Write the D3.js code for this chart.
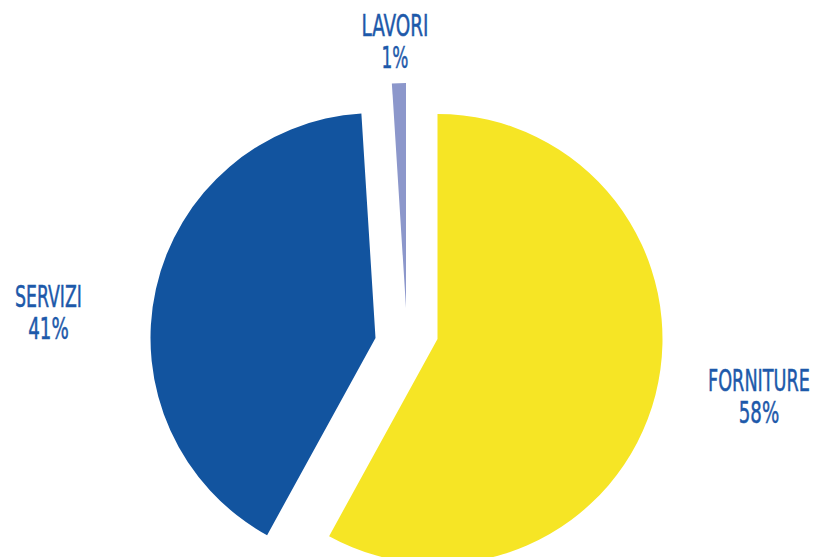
<!DOCTYPE html>
<html><head><meta charset="utf-8">
<script src="https://cdn.jsdelivr.net/npm/d3@7"></script>
<style>html,body{margin:0;padding:0;background:#fff;}svg{display:block;}</style>
</head><body>
<svg id="chart" width="817" height="557"></svg>
<script>
const categories = ["FORNITURE", "SERVIZI", "LAVORI"];
const values = [58, 41, 1];
const percentLabels = ["58%", "41%", "1%"];

const colors = ["#f6e525", "#12549f", "#8c97cb"];
const textColor = "#1d59aa";
const W = 817, H = 557;
const cx = 406.5, cy = 331, R = 225;
// per-slice displacement of the exploded pieces
const shift = [[31, 8], [-31, 7], [-0.5, -23]];
// label anchor (center x, baseline of first line, width) per slice
const labelLayout = [
  {x: 759, y: 391, w: 102},
  {x: 48.5, y: 307, w: 67},
  {x: 395, y: 36, w: 67}
];

const svg = d3.select("#chart");
const g = svg.append("g").attr("transform", `translate(${cx},${cy})`);
const pie = d3.pie().sort(null).value(d => d)(values);
const arc = d3.arc().innerRadius(0).outerRadius(R);

g.selectAll("path").data(pie).join("path")
  .attr("d", arc)
  .attr("fill", (d, i) => colors[i])
  .attr("transform", (d, i) => `translate(${shift[i][0]},${shift[i][1]})`);

const fontFam = "'Liberation Sans Narrow','DejaVu Sans Condensed','Roboto Condensed',sans-serif";
function fitText(x, y, w, str) {
  const grp = svg.append("g").attr("transform", `translate(${x},${y})`);
  const t = grp.append("text").attr("x", 0).attr("y", 0).text(str)
    .attr("fill", textColor).attr("stroke", textColor).attr("stroke-width", 0.5)
    .attr("font-family", fontFam).attr("font-size", 30).attr("text-anchor", "middle");
  const nat = t.node().getComputedTextLength();
  t.attr("transform", `scale(${w / nat},1)`);
}
categories.forEach((c, i) => {
  const L = labelLayout[i];
  fitText(L.x, L.y, L.w, c);
  fitText(L.x, L.y + 32, percentLabels[i].length * 13.5, percentLabels[i]);
});
</script>
</body></html>
